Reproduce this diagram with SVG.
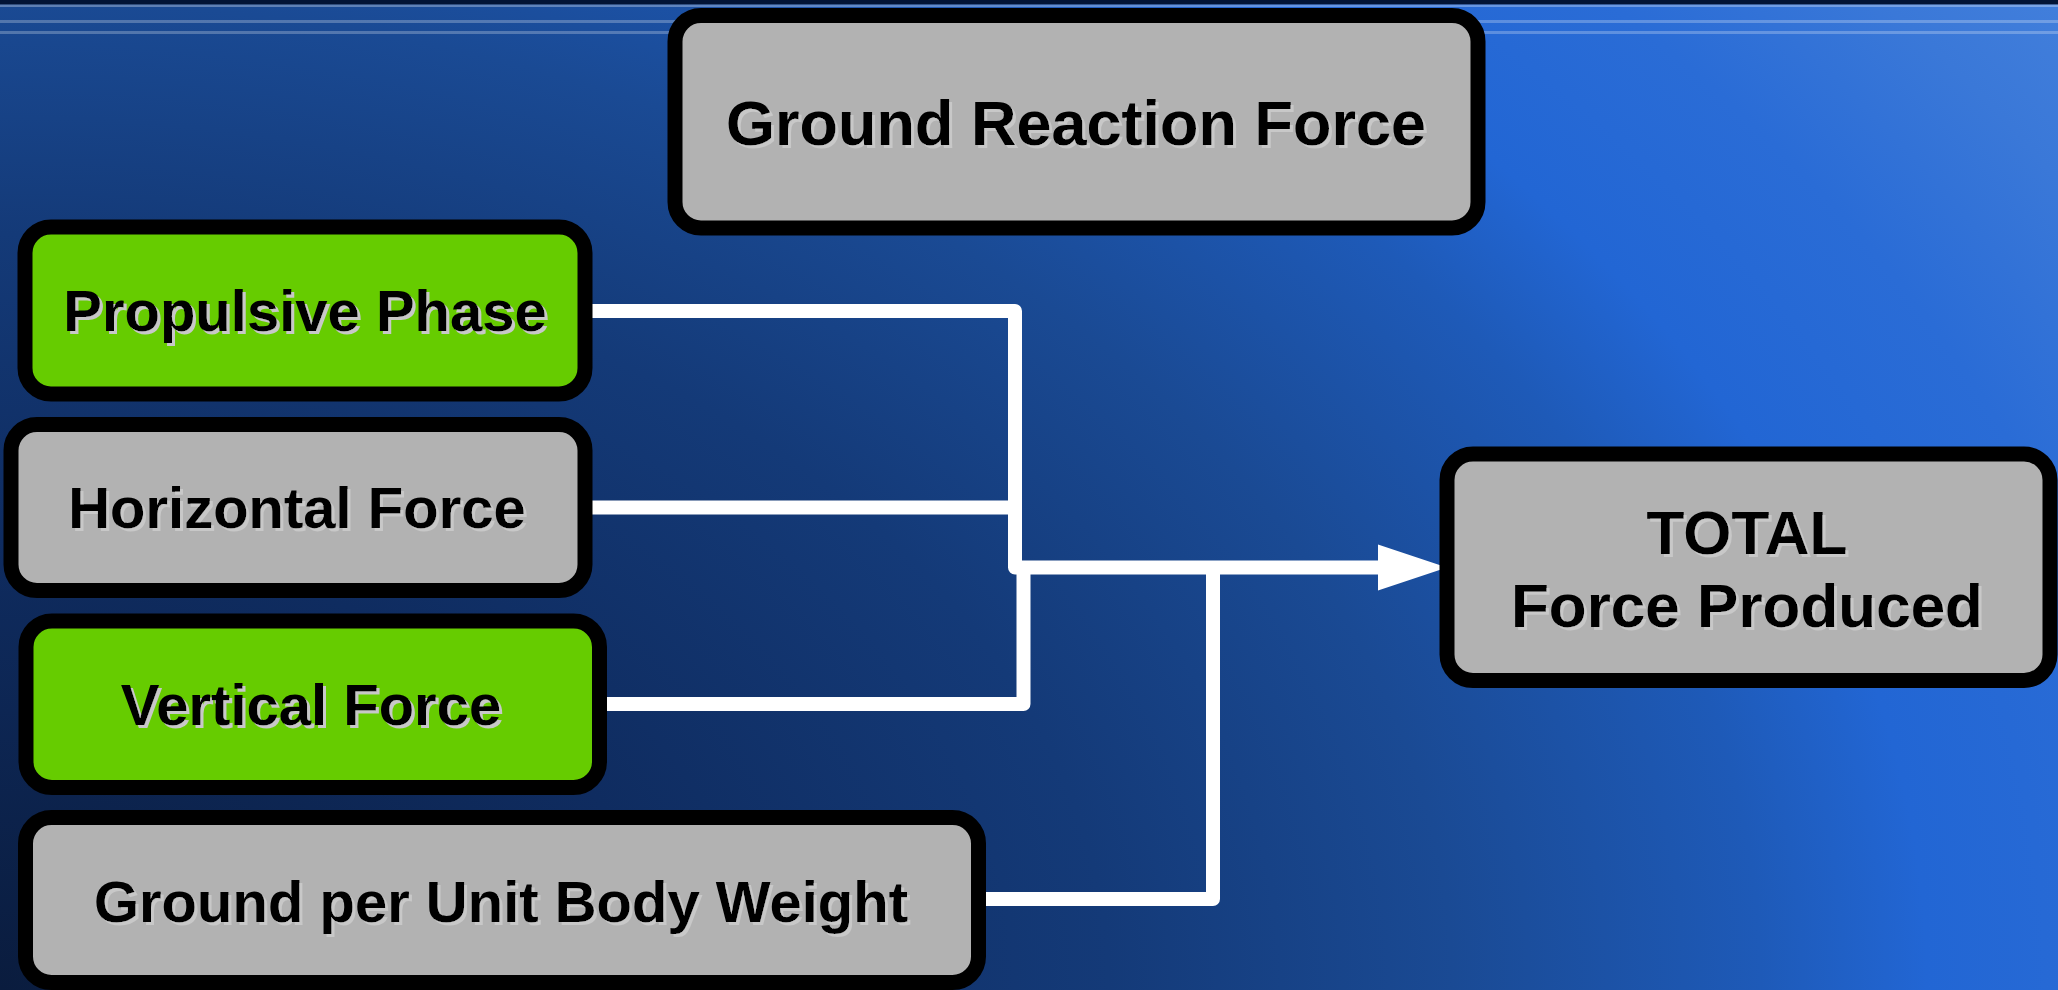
<svg xmlns="http://www.w3.org/2000/svg" width="2058" height="990" viewBox="0 0 2058 990">
  <defs>
    <!-- backdrop: dark navy in the lower left, brightening to light blue at the upper right -->
    <radialGradient id="bg" gradientUnits="userSpaceOnUse" cx="0" cy="990" r="1800" gradientTransform="scale(1.4667 1)">
      <stop offset="0" stop-color="#0a1c3e"/>
      <stop offset="0.25" stop-color="#0f2c60"/>
      <stop offset="0.42" stop-color="#143a78"/>
      <stop offset="0.55" stop-color="#1a4a94"/>
      <stop offset="0.667" stop-color="#1e5ab8"/>
      <stop offset="0.73" stop-color="#2266d4"/>
      <stop offset="0.82" stop-color="#2a6cd6"/>
      <stop offset="0.9" stop-color="#3a78d8"/>
      <stop offset="1" stop-color="#4884de"/>
    </radialGradient>
    <filter id="shadow" x="-5%" y="-20%" width="110%" height="140%">
      <feDropShadow dx="3" dy="3" stdDeviation="0.3" flood-color="#c8c8c8" flood-opacity="1"/>
    </filter>
    <style>
      .box { stroke: #000; stroke-width: 15; }
      .gray { fill: #b2b2b2; }
      .green { fill: #66cc00; }
      .label { font-family: "Liberation Sans", Arial, sans-serif; font-weight: bold; fill: #000; text-anchor: middle; filter: url(#shadow); }
      .link { fill: none; stroke: #fff; stroke-width: 14; stroke-linejoin: round; }
      .rule { fill: #ffffff; }
    </style>
  </defs>

  <!-- background -->
  <rect width="2058" height="990" fill="url(#bg)"/>
  <rect width="2058" height="4.5" fill="#021436"/>
  <rect y="4.5" width="2058" height="2.5" class="rule" opacity="0.3"/>
  <rect y="20" width="2058" height="3" class="rule" opacity="0.25"/>
  <rect y="31" width="2058" height="3" class="rule" opacity="0.25"/>

  <!-- connectors -->
  <g id="connectors">
    <path class="link" d="M585 311 H1015 V567.5 H1382"/>
    <path class="link" d="M585 507.5 H1015"/>
    <path class="link" d="M600 704 H1023.5 V567.5"/>
    <path class="link" d="M979 899 H1213 V567.5"/>
    <polygon fill="#fff" points="1378,544.5 1447,567.5 1378,590.5"/>
  </g>

  <!-- nodes -->
  <g id="ground-reaction-force">
    <rect class="box gray" x="675" y="15.5" width="803" height="212.5" rx="26"/>
    <text class="label" x="1076" y="145" font-size="63">Ground Reaction Force</text>
  </g>

  <g id="propulsive-phase">
    <rect class="box green" x="25" y="227" width="560" height="167" rx="26"/>
    <text class="label" x="305" y="331" font-size="58">Propulsive Phase</text>
  </g>

  <g id="horizontal-force">
    <rect class="box gray" x="11" y="424.5" width="574" height="166" rx="26"/>
    <text class="label" x="297" y="528" font-size="58">Horizontal Force</text>
  </g>

  <g id="vertical-force">
    <rect class="box green" x="26" y="621" width="573.5" height="166.5" rx="26"/>
    <text class="label" x="311" y="725" font-size="58">Vertical Force</text>
  </g>

  <g id="ground-per-unit-body-weight">
    <rect class="box gray" x="25.5" y="817.5" width="953" height="165" rx="26"/>
    <text class="label" x="501" y="922" font-size="58">Ground per Unit Body Weight</text>
  </g>

  <g id="total-force-produced">
    <rect class="box gray" x="1447" y="454" width="603" height="226.5" rx="26"/>
    <text class="label" x="1747" y="554" font-size="62">TOTAL</text>
    <text class="label" x="1747" y="627" font-size="62">Force Produced</text>
  </g>
</svg>
